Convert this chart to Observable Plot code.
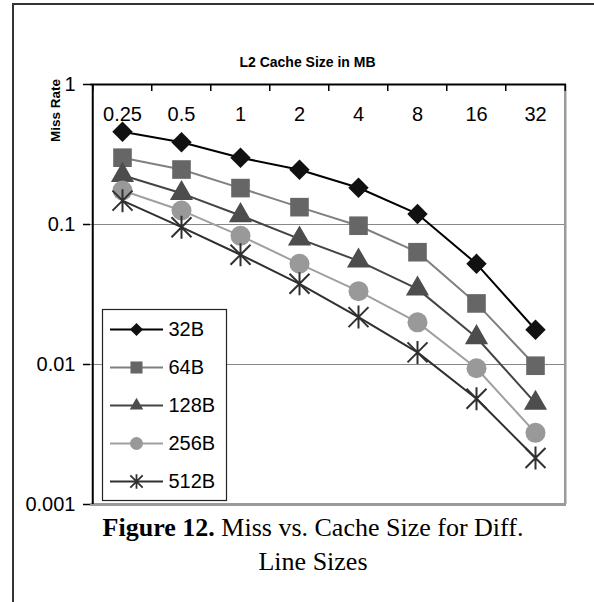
<!DOCTYPE html>
<html>
<head>
<meta charset="utf-8">
<script src="https://cdn.jsdelivr.net/npm/d3@7"></script>
<script src="https://cdn.jsdelivr.net/npm/@observablehq/plot@0.6"></script>
<style>
  html, body { margin: 0; padding: 0; background: #fff; overflow: hidden; }
  #page { position: relative; width: 594px; height: 602px; }
  #outer { position: absolute; left: 12px; top: 3px; width: 582px; height: 599px;
           border-left: 2px solid #333; border-top: 2px solid #333; box-sizing: border-box; }
  #chart { position: absolute; left: 0; top: 0; }
  #legend { position: absolute; left: 102px; top: 309px; }
  #caption { position: absolute; left: 13px; top: 511px; width: 600px; text-align: center;
             font-family: "Liberation Serif", "Times New Roman", Times, serif; font-size: 26px;
             line-height: 34px; color: #000; white-space: nowrap; }
</style>
</head>
<body>
<div id="page">
  <div id="chart"></div>
  <div id="legend"></div>
  <div id="outer"></div>
  <div id="caption"><b>Figure 12.</b> Miss vs. Cache Size for Diff.<br>Line Sizes</div>
</div>
<script>
// ---- data ----
const sizes = ["0.25", "0.5", "1", "2", "4", "8", "16", "32"];
const series = ["32B", "64B", "128B", "256B", "512B"];
const miss32B  = [0.46, 0.387, 0.30, 0.246, 0.183, 0.119, 0.0524, 0.0177];
const miss64B  = [0.30, 0.247, 0.182, 0.133, 0.098, 0.0634, 0.0273, 0.0098];
const miss128B = [0.225, 0.167, 0.116, 0.079, 0.055, 0.0347, 0.0156, 0.0053];
const miss256B = [0.175, 0.126, 0.083, 0.0524, 0.0334, 0.0200, 0.0094, 0.00325];
const miss512B = [0.148, 0.0957, 0.0608, 0.0377, 0.0218, 0.0122, 0.0057, 0.00215];
const yTicks = [1, 0.1, 0.01, 0.001];
const yTickLabels = ["1", "0.1", "0.01", "0.001"];
const xTitle = "L2 Cache Size in MB";
const yTitle = "Miss Rate";

const values = [miss32B, miss64B, miss128B, miss256B, miss512B];
const rows = [];
series.forEach((s, i) => sizes.forEach((c, j) => rows.push({series: s, size: c, value: values[i][j]})));

// custom asterisk symbol (vertical + two diagonals)
const asterisk = {
  draw(ctx, size) {
    const r = Math.sqrt(size / Math.PI);
    ctx.moveTo(0, -r * 1.15); ctx.lineTo(0, r * 1.15);
    ctx.moveTo(-r, -r); ctx.lineTo(r, r);
    ctx.moveTo(-r, r); ctx.lineTo(r, -r);
  }
};

const styles = {
  "32B":  {line: "#000000", symbol: "diamond2", fill: "#111111", r: 9.2, lr: 5.9},
  "64B":  {line: "#808080", symbol: "square",   fill: "#666666", r: 10.5, lr: 6.8},
  "128B": {line: "#444444", symbol: "triangle", fill: "#4d4d4d", r: 8.6, lr: 5.0},
  "256B": {line: "#a0a0a0", symbol: "circle",   fill: "#999999", r: 10, lr: 6.5},
  "512B": {line: "#303030", symbol: asterisk,   fill: "none",    r: 10, lr: 6.2, stroke: "#303030"}
};

const W = 594, H = 510;
const ML = 90, MR = 28, MT = 84, MB = 6;
const half = (W - ML - MR) / sizes.length / 2;

const marks = [
  Plot.ruleY([0.1, 0.01], {stroke: "#888", strokeWidth: 1.2}),
  Plot.ruleY([yTicks[3]], {stroke: "#9a9a9a", strokeWidth: 3}),
  Plot.ruleX([sizes[sizes.length - 1]], {dx: half, stroke: "#9a9a9a", strokeWidth: 2.5}),
  Plot.ruleX([sizes[0]], {dx: -half, stroke: "#000", strokeWidth: 2}),
  Plot.ruleY([yTicks[0]], {stroke: "#000", strokeWidth: 2}),
  Plot.ruleX(sizes, {dx: -half, insetBottom: H - MT - MB - 7, stroke: "#000", strokeWidth: 1.5}),
  Plot.ruleX([sizes[sizes.length - 1]], {dx: half, insetBottom: H - MT - MB - 7, stroke: "#000", strokeWidth: 1.5}),
  Plot.axisY({ticks: yTicks, tickFormat: d => yTickLabels[yTicks.indexOf(d)], tickSize: 7, tickPadding: 8,
              fontSize: 20, label: null, strokeWidth: 1.5}),
  Plot.text(sizes, {x: d => d, frameAnchor: "top", lineAnchor: "middle", dy: 30.5, fontSize: 20, fill: "#000"}),
  Plot.text([xTitle], {frameAnchor: "top", lineAnchor: "middle", textAnchor: "middle", dx: -21, dy: -22, fontSize: 14, fontWeight: "bold"}),
  Plot.text([yTitle], {frameAnchor: "top-left", lineAnchor: "middle", textAnchor: "middle", dx: -35, dy: 26, rotate: -90, fontSize: 13.5, fontWeight: "bold"})
];

series.forEach(s => {
  const st = styles[s];
  const d = rows.filter(r => r.series === s);
  marks.push(Plot.line(d, {x: "size", y: "value", stroke: st.line, strokeWidth: 2}));
});
series.forEach(s => {
  const st = styles[s];
  const d = rows.filter(r => r.series === s);
  marks.push(Plot.dot(d, {x: "size", y: "value", symbol: st.symbol, r: st.r,
    fill: st.fill, stroke: st.stroke || "none", strokeWidth: 2}));
});

const chart = Plot.plot({
  width: W, height: H,
  marginLeft: ML, marginRight: MR, marginTop: MT, marginBottom: MB,
  style: {fontFamily: "'Liberation Sans', Arial, Helvetica, sans-serif", fontSize: "20px", background: "transparent", overflow: "visible", color: "#000"},
  x: {type: "point", domain: sizes, padding: 0.5, axis: null},
  y: {type: "log", domain: [yTicks[3], yTicks[0]], axis: null},
  marks
});
document.getElementById("chart").appendChild(chart);

// ---- legend ----
const LW = 124, LH = 191;
const legendMarks = [Plot.frame({fill: "#fff", stroke: "#222", strokeWidth: 1.2})];
series.forEach(s => {
  const st = styles[s];
  legendMarks.push(Plot.ruleY([s], {y: d => d, insetLeft: 8, insetRight: LW - 61, stroke: st.line, strokeWidth: 2}));
  legendMarks.push(Plot.dot([s], {y: d => d, frameAnchor: "left", dx: 34, symbol: st.symbol, r: st.lr,
    fill: st.fill, stroke: st.stroke || "none", strokeWidth: 1.8}));
});
legendMarks.push(Plot.text(series, {y: d => d, frameAnchor: "left", dx: 66, textAnchor: "start", fontSize: 20, fill: "#000"}));

const legend = Plot.plot({
  width: LW, height: LH, margin: 0,
  style: {fontFamily: "'Liberation Sans', Arial, Helvetica, sans-serif", fontSize: "20px", background: "transparent", overflow: "visible", color: "#000"},
  y: {type: "point", domain: series, padding: 0.5, axis: null},
  marks: legendMarks
});
document.getElementById("legend").appendChild(legend);
</script>
</body>
</html>
